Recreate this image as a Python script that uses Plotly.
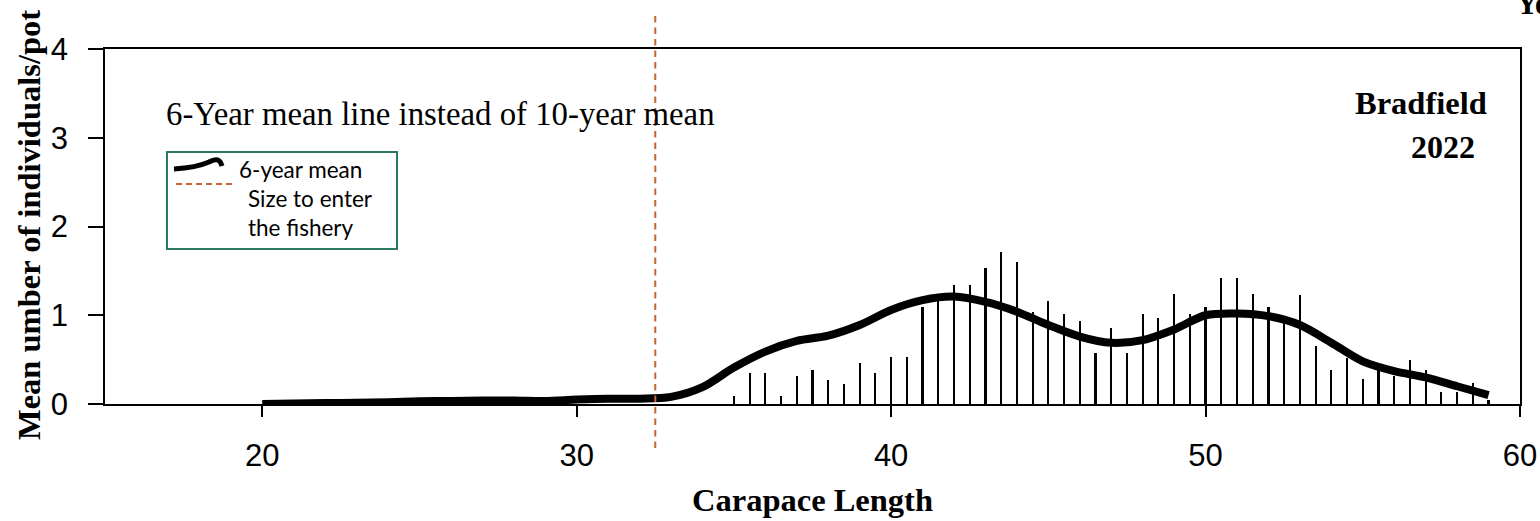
import plotly.graph_objects as go

# ---- data ----
bar_x = [35.0, 35.5, 36.0, 36.5, 37.0, 37.5, 38.0, 38.5, 39.0, 39.5, 40.0, 40.5,
         41.0, 41.5, 42.0, 42.5, 43.0, 43.5, 44.0, 44.5, 45.0, 45.5, 46.0, 46.5,
         47.0, 47.5, 48.0, 48.5, 49.0, 49.5, 50.0, 50.5, 51.0, 51.5, 52.0, 52.5,
         53.0, 53.5, 54.0, 54.5, 55.0, 55.5, 56.0, 56.5, 57.0, 57.5, 58.0, 58.5, 59.0]
bar_y = [0.09, 0.35, 0.35, 0.09, 0.32, 0.38, 0.27, 0.23, 0.46, 0.35, 0.53, 0.53,
         1.09, 1.16, 1.34, 1.34, 1.53, 1.71, 1.60, 1.04, 1.16, 1.01, 0.94, 0.57,
         0.86, 0.57, 1.01, 0.97, 1.24, 1.01, 1.09, 1.42, 1.42, 1.24, 1.09, 0.97,
         1.23, 0.65, 0.38, 0.52, 0.28, 0.38, 0.31, 0.50, 0.38, 0.13, 0.13, 0.24, 0.05]

mean_x = list(range(20, 60))
mean_y = [0.00, 0.005, 0.01, 0.015, 0.02, 0.03, 0.035, 0.04, 0.04, 0.035,
          0.05, 0.06, 0.06, 0.08, 0.19, 0.41, 0.59, 0.71, 0.77, 0.89,
          1.06, 1.17, 1.21, 1.15, 1.04, 0.89, 0.76, 0.69, 0.72, 0.84,
          1.00, 1.02, 0.99, 0.89, 0.69, 0.48, 0.37, 0.30, 0.20, 0.10]

fishery_size = 32.5
x_ticks = [20, 30, 40, 50, 60]
y_ticks = [0, 1, 2, 3, 4]
x_range = [15, 60]
y_range = [0, 4]

# ---- layout geometry (pixels) ----
W, H = 1540, 521
L, R, T, B = 105, 20, 49, 117
PW, PH = W - L - R, H - T - B


def px(xp):
    return (xp - L) / PW


def py(yp):
    return (H - B - yp) / PH


SERIF = "Liberation Serif, Times New Roman, serif"
SANS = "Liberation Sans, Arial, sans-serif"
LEG = "Lato, Open Sans, sans-serif"
ORANGE = "#C8622E"
GREEN = "#2A7B5C"

fig = go.Figure()
fig.add_trace(go.Bar(x=bar_x, y=bar_y, width=0.07, marker=dict(color="black", line=dict(width=0)),
                     showlegend=False, hoverinfo="skip"))
fig.add_trace(go.Scatter(x=mean_x, y=mean_y, mode="lines",
                         line=dict(color="black", width=8, shape="spline", smoothing=0.9),
                         showlegend=False))

fx = (fishery_size - x_range[0]) / (x_range[1] - x_range[0])
shapes = [
    dict(type="line", xref="paper", yref="paper", x0=fx, x1=fx, y0=py(448), y1=py(14),
         line=dict(color=ORANGE, width=2, dash="6.5px,5px"), layer="above"),
    # legend box
    dict(type="rect", xref="paper", yref="paper", x0=px(167), x1=px(397), y0=py(249), y1=py(152),
         line=dict(color=GREEN, width=2), fillcolor="white", layer="above"),
    dict(type="path", xref="paper", yref="paper",
         path=f"M {px(174)},{py(169)} C {px(190)},{py(168)} {px(200)},{py(166)} {px(209)},{py(162)} "
              f"C {px(216)},{py(158)} {px(220)},{py(159)} {px(222)},{py(166)}",
         line=dict(color="black", width=5), layer="above"),
    dict(type="line", xref="paper", yref="paper", x0=px(176), x1=px(236), y0=py(184), y1=py(184),
         line=dict(color=ORANGE, width=2, dash="6px,4px"), layer="above"),
]

annotations = [
    dict(text="6-Year mean line instead of 10-year mean", xref="paper", yref="paper",
         x=px(164), y=py(114), xanchor="left", yanchor="middle", showarrow=False,
         font=dict(family=SERIF, size=32.8, color="black")),
    dict(text="<b>Bradfield</b>", xref="paper", yref="paper", x=px(1489), y=py(103),
         xanchor="right", yanchor="middle", showarrow=False,
         font=dict(family=SERIF, size=32.5, color="black")),
    dict(text="<b>2022</b>", xref="paper", yref="paper", x=px(1477), y=py(147),
         xanchor="right", yanchor="middle", showarrow=False,
         font=dict(family=SERIF, size=32, color="black")),
    dict(text="<b>Ye</b>", xref="paper", yref="paper", x=px(1514), y=py(4),
         xanchor="left", yanchor="middle", showarrow=False,
         font=dict(family=SERIF, size=31, color="black")),
    dict(text="<b>Carapace Length</b>", xref="paper", yref="paper", x=px(812), y=py(500),
         xanchor="center", yanchor="middle", showarrow=False,
         font=dict(family=SERIF, size=32.5, color="black")),
    dict(text="<b>Mean umber of individuals/pot</b>", xref="paper", yref="paper", x=px(29), y=py(225),
         xanchor="center", yanchor="middle", textangle=-90, showarrow=False,
         font=dict(family=SERIF, size=32.5, color="black")),
    dict(text="6-year mean", xref="paper", yref="paper", x=px(237), y=py(169),
         xanchor="left", yanchor="middle", showarrow=False,
         font=dict(family=LEG, size=22.5, color="black")),
    dict(text="Size to enter", xref="paper", yref="paper", x=px(246), y=py(198),
         xanchor="left", yanchor="middle", showarrow=False,
         font=dict(family=LEG, size=22.5, color="black")),
    dict(text="the fishery", xref="paper", yref="paper", x=px(246), y=py(227),
         xanchor="left", yanchor="middle", showarrow=False,
         font=dict(family=LEG, size=22.5, color="black")),
]

fig.update_layout(
    width=W, height=H, autosize=False,
    margin=dict(l=L, r=R, t=T, b=B, pad=0, autoexpand=False),
    paper_bgcolor="white", plot_bgcolor="white",
    showlegend=False,
    bargap=0,
    shapes=shapes,
    annotations=annotations,
    xaxis=dict(range=x_range, tickvals=x_ticks, ticktext=[str(v) for v in x_ticks],
               ticks="outside", ticklen=11, tickwidth=1.5, tickcolor="black",
               showline=True, linecolor="black", linewidth=1.5, mirror=True,
               showgrid=False, zeroline=False, ticklabelstandoff=12, automargin=False,
               tickfont=dict(family=SANS, size=31, color="black")),
    yaxis=dict(range=y_range, tickvals=y_ticks, ticktext=[str(v) for v in y_ticks],
               ticks="outside", ticklen=15, tickwidth=1.5, tickcolor="black",
               showline=True, linecolor="black", linewidth=1.5, mirror=True,
               showgrid=False, zeroline=False, ticklabelstandoff=14, automargin=False,
               tickfont=dict(family=SANS, size=31, color="black")),
)

fig.write_html("out.html", config={"displayModeBar": False, "responsive": False},
               post_script="document.body.style.margin='0';document.body.style.overflow='hidden';")
